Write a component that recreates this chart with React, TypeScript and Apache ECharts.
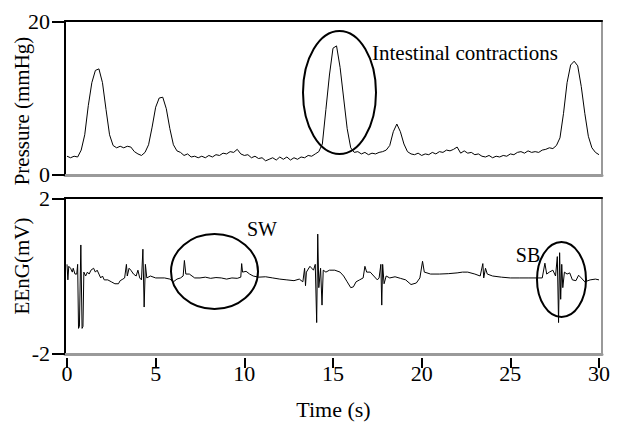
import React, { useEffect, useRef } from "react";
import * as echarts from "echarts";

const timeStep = 0.2;
const pressureValues: number[] = [
  2.4, 2.2, 2.4, 2.3, 3.2, 5.2, 9.0, 12.0, 13.6, 13.8,
  12.0, 8.5, 5.2, 3.8, 3.5, 3.7, 3.5, 3.7, 3.6, 3.0,
  2.7, 2.5, 2.9, 3.9, 6.2, 8.8, 10.0, 10.1, 8.6, 6.0,
  3.9, 3.1, 2.9, 2.5, 2.7, 2.3, 2.4, 2.2, 2.4, 2.2,
  2.5, 2.3, 2.6, 2.5, 2.8, 2.7, 3.0, 2.9, 3.3, 2.7,
  2.5, 2.6, 2.2, 2.4, 2.1, 2.2, 1.8, 2.0, 2.2, 1.9,
  2.3, 2.0, 2.3, 1.9, 2.2, 2.0, 2.3, 2.2, 2.5, 2.4,
  2.7, 3.0, 4.0, 8.5, 13.0, 16.5, 16.8, 14.0, 10.0, 6.0,
  3.5, 2.9, 3.0, 2.7, 2.9, 2.6, 2.8, 2.7, 2.9, 3.0,
  3.2, 3.8, 5.6, 6.6, 5.6, 4.0, 3.0, 2.7, 2.6, 2.8,
  2.5, 2.7, 2.6, 2.9, 2.7, 3.0, 2.9, 3.2, 3.1, 3.3,
  3.6, 2.8, 3.1, 2.8, 2.9, 2.6, 2.7, 2.4, 2.3, 2.5,
  2.2, 2.4, 2.3, 2.5, 2.4, 2.7, 2.6, 2.9, 3.0, 2.8,
  3.1, 2.9, 3.0, 2.9, 3.2, 3.3, 3.5, 3.4, 3.8, 4.8,
  8.0, 12.0, 14.3, 14.8, 14.2, 11.5, 8.0, 5.0, 3.5, 2.9,
  2.6,
];

const eengPoints: [number, number][] = [
  [0, 0.3], [0.05, -0.1], [0.1, 0.25], [0.2, 0.2], [0.3, 0.1], [0.35, 0.2], [0.45, 0.05],
  [0.55, 0.05], [0.6, 0.3], [0.65, -1.35], [0.7, -1.3], [0.78, 0.8], [0.85, -1.35], [0.9, -1.3],
  [0.95, 0.1], [1.05, 0.0], [1.15, 0.1], [1.25, 0.05], [1.35, 0.15], [1.5, 0.2], [1.6, 0.1],
  [1.7, 0.15], [1.8, 0.05], [1.9, -0.05], [2.0, 0.0], [2.1, -0.1], [2.3, -0.1], [2.5, -0.15],
  [2.7, -0.2], [2.9, -0.2], [3.0, -0.12], [3.15, -0.08], [3.25, -0.05], [3.35, 0.3], [3.4, 0.0],
  [3.5, 0.2], [3.6, 0.15], [3.75, 0.05], [3.9, 0.0], [4.0, 0.15], [4.1, -0.05], [4.2, -0.1],
  [4.28, 0.69], [4.35, -0.8], [4.42, 0.3], [4.5, -0.05], [4.7, 0.0], [5.0, -0.05], [5.5, -0.05],
  [5.8, -0.08], [6.0, -0.15], [6.2, -0.08], [6.4, -0.05], [6.55, 0.0], [6.62, 0.4], [6.7, 0.05],
  [6.9, 0.05], [7.2, -0.05], [7.5, -0.05], [7.8, -0.03], [8.1, -0.06], [8.4, -0.04], [8.7, -0.05],
  [9.0, -0.08], [9.3, -0.05], [9.6, -0.06], [9.8, -0.03], [9.85, 0.32], [9.9, 0.1], [10.1, 0.12],
  [10.3, 0.05], [10.5, 0.0], [10.8, -0.03], [11.2, -0.02], [11.6, -0.05], [12.0, -0.08],
  [12.4, -0.1], [12.8, -0.12], [13.1, -0.08], [13.3, -0.15], [13.4, 0.2], [13.45, -0.25],
  [13.5, 0.1], [13.7, 0.25], [13.9, 0.15], [14.0, 0.3], [14.08, -1.2], [14.14, 1.08], [14.2, -0.3],
  [14.3, 0.2], [14.38, -0.75], [14.45, 0.15], [14.6, 0.1], [14.8, 0.15], [15.1, 0.15], [15.4, 0.1],
  [15.6, 0.0], [15.8, -0.15], [16.0, -0.3], [16.15, -0.28], [16.3, -0.15], [16.5, -0.1],
  [16.7, -0.05], [16.8, 0.25], [16.9, 0.1], [17.1, 0.1], [17.3, 0.0], [17.5, -0.1], [17.6, -0.05],
  [17.7, 0.3], [17.75, -0.75], [17.8, 0.3], [17.88, -0.2], [18.0, 0.0], [18.2, -0.05], [18.5, -0.02],
  [18.8, -0.06], [19.1, -0.1], [19.4, -0.22], [19.7, -0.18], [19.9, -0.05], [20.05, 0.38],
  [20.15, 0.1], [20.3, 0.08], [20.5, 0.05], [21.0, 0.05], [21.5, 0.06], [22.0, 0.08], [22.3, 0.1],
  [22.6, 0.1], [23.0, 0.05], [23.3, 0.0], [23.45, 0.32], [23.5, -0.05], [23.6, 0.2], [23.7, 0.05],
  [24.0, 0.0], [24.5, -0.03], [25.0, -0.05], [25.5, -0.05], [26.0, -0.05], [26.5, -0.05],
  [26.8, -0.05], [26.95, 0.33], [27.05, 0.05], [27.2, 0.1], [27.4, 0.15], [27.55, 0.0],
  [27.65, 0.5], [27.72, -1.2], [27.78, 0.6], [27.84, -0.6], [27.9, 0.3], [27.96, -0.3],
  [28.05, 0.1], [28.2, 0.05], [28.35, 0.08], [28.5, -0.1], [28.7, -0.12], [28.85, 0.02],
  [29.0, -0.05], [29.2, -0.15], [29.5, -0.1], [29.8, -0.08], [30.0, -0.1],
];

const xTicks = [0, 5, 10, 15, 20, 25, 30];
const pressureTicks = [0, 20];
const eengTicks = [-2, 2];

const FONT = "Liberation Serif, Times New Roman, serif";

export default function App() {
  const ref = useRef<HTMLDivElement>(null);
  useEffect(() => {
    document.body.style.margin = "0";
    const chart = echarts.init(ref.current!, null, { renderer: "svg" });
    const pressureData = pressureValues.map((v, i) => [+(i * timeStep).toFixed(2), v]);
    const xMin = -0.113;
    const xMax = 30.17;
    const hiddenX = (gridIndex: number, position: string, color: string, width: number) => ({
      type: "value",
      gridIndex,
      position,
      min: xMin,
      max: xMax,
      axisLine: { show: true, onZero: false, lineStyle: { color, width } },
      axisTick: { show: false },
      axisLabel: { show: false },
      splitLine: { show: false },
    });
    const yAx = (gridIndex: number, ticks: number[], pad: number) => ({
      type: "value",
      gridIndex,
      min: ticks[0] - pad,
      max: ticks[1] + pad,
      axisLine: { show: true, onZero: false, lineStyle: { color: "#000", width: 2 } },
      axisTick: {
        show: true,
        inside: false,
        length: 13,
        customValues: ticks,
        lineStyle: { color: "#000", width: 2 },
      },
      axisLabel: {
        show: true,
        customValues: ticks,
        margin: 15,
        fontSize: 22,
        fontFamily: FONT,
        color: "#000",
      },
      splitLine: { show: false },
    });
    chart.setOption({
      animation: false,
      backgroundColor: "#fff",
      grid: [
        { left: 65, right: 17, top: 21, height: 154, show: true, borderColor: "#999", borderWidth: 2, backgroundColor: "transparent" },
        { left: 65, right: 17, top: 198, height: 156, show: true, borderColor: "#999", borderWidth: 2, backgroundColor: "transparent" },
      ],
      xAxis: [
        hiddenX(0, "bottom", "#9a9a9a", 3),
        hiddenX(0, "top", "#000", 2),
        {
          type: "value",
          gridIndex: 1,
          position: "bottom",
          offset: 4,
          min: xMin,
          max: xMax,
          axisLine: { show: false, onZero: false },
          axisTick: {
            show: true,
            inside: false,
            length: 10,
            customValues: xTicks,
            lineStyle: { color: "#000", width: 2 },
          },
          axisLabel: {
            show: true,
            customValues: xTicks,
            margin: 4,
            fontSize: 22,
            fontFamily: FONT,
            color: "#000",
          },
          splitLine: { show: false },
          name: "Time (s)",
          nameLocation: "middle",
          nameGap: 40,
          nameTextStyle: { fontSize: 22, fontFamily: FONT, color: "#000" },
        },
        hiddenX(1, "top", "#000", 2),
        hiddenX(1, "bottom", "#9a9a9a", 3),
      ],
      yAxis: [yAx(0, pressureTicks, 0.05), yAx(1, eengTicks, 0.01)],
      series: [
        {
          type: "line",
          xAxisIndex: 0,
          yAxisIndex: 0,
          data: pressureData,
          showSymbol: false,
          lineStyle: { color: "#000", width: 1 },
        },
        {
          type: "line",
          xAxisIndex: 2,
          yAxisIndex: 1,
          data: eengPoints,
          showSymbol: false,
          lineStyle: { color: "#000", width: 1 },
        },
      ],
      graphic: [
        {
          type: "text",
          x: 22,
          y: 111,
          rotation: Math.PI / 2,
          style: { text: "Pressure (mmHg)", fontSize: 21, fontFamily: FONT, fill: "#000", align: "center", verticalAlign: "middle" },
        },
        {
          type: "text",
          x: 22,
          y: 266,
          rotation: Math.PI / 2,
          style: { text: "EEnG(mV)", fontSize: 21, fontFamily: FONT, fill: "#000", align: "center", verticalAlign: "middle" },
        },
        {
          type: "ellipse",
          shape: { cx: 339.5, cy: 92.5, rx: 36.5, ry: 61.5 },
          style: { fill: "none", stroke: "#000", lineWidth: 2 },
        },
        {
          type: "text",
          x: 372,
          y: 53,
          style: { text: "Intestinal contractions", fontSize: 21, fontFamily: FONT, fill: "#000", align: "left", verticalAlign: "middle" },
        },
        {
          type: "ellipse",
          shape: { cx: 214.5, cy: 271.5, rx: 43.5, ry: 37.5 },
          style: { fill: "none", stroke: "#000", lineWidth: 2 },
        },
        {
          type: "text",
          x: 262,
          y: 229,
          style: { text: "SW", fontSize: 20, fontFamily: FONT, fill: "#000", align: "center", verticalAlign: "middle" },
        },
        {
          type: "ellipse",
          shape: { cx: 561.5, cy: 279.5, rx: 24.5, ry: 37.5 },
          style: { fill: "none", stroke: "#000", lineWidth: 2 },
        },
        {
          type: "text",
          x: 528,
          y: 255,
          style: { text: "SB", fontSize: 20, fontFamily: FONT, fill: "#000", align: "center", verticalAlign: "middle" },
        },
      ],
    });
    return () => chart.dispose();
  }, []);
  return <div ref={ref} style={{ width: 619, height: 426 }} />;
}
